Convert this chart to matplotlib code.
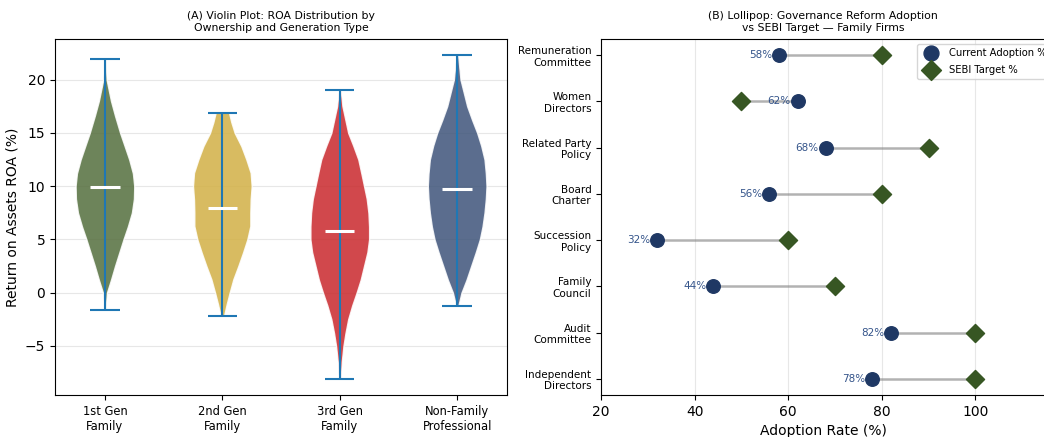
import matplotlib
matplotlib.use("Agg")
import matplotlib.pyplot as plt

# Panel A: ROA violin profiles (value, relative density) per ownership group
groups = ["1st Gen\nFamily", "2nd Gen\nFamily", "3rd Gen\nFamily", "Non-Family\nProfessional"]
body_colors = ["#546e3d", "#d2b045", "#c9282c", "#3e547a"]

gen1_coords = [-1.6, 0.0, 1.2, 2.5, 3.8, 5.0, 6.2, 7.5, 8.8, 10.0, 11.2, 12.5, 13.8, 15.0, 16.6, 18.0, 20.0, 21.9]
gen1_dens = [2, 6, 18, 30, 43, 55, 68, 80, 86, 87, 83, 72, 58, 45, 30, 18, 5, 2]
gen1_median = 9.9

gen2_coords = [-2.2, -1.1, 0.0, 1.25, 2.5, 3.75, 5.0, 6.25, 7.5, 8.75, 10.0, 11.25, 12.5, 13.75, 15.0, 16.0, 16.9]
gen2_dens = [5, 13, 22, 33, 48, 62, 75, 84, 84, 85, 88, 85, 72, 57, 37, 27, 20]
gen2_median = 7.9

gen3_coords = [-8.1, -6.5, -5.0, -3.8, -2.5, -1.2, 0.0, 1.2, 2.5, 3.8, 5.0, 6.2, 7.5, 8.8, 10.0, 11.2, 12.5, 13.8, 15.0, 17.5, 19.0]
gen3_dens = [3, 6, 11, 17, 25, 37, 50, 62, 72, 82, 87, 87, 85, 80, 72, 64, 55, 40, 25, 8, 3]
gen3_median = 5.8

nonfam_coords = [-1.3, 0.0, 1.2, 2.5, 3.8, 5.0, 6.2, 7.5, 8.8, 10.0, 11.2, 12.5, 13.8, 15.0, 16.2, 17.5, 20.0, 22.3]
nonfam_dens = [3, 13, 28, 42, 56, 68, 76, 82, 86, 88, 86, 82, 72, 60, 45, 30, 10, 3]
nonfam_median = 9.7

# Panel B: governance reforms (bottom to top)
reforms = ["Independent\nDirectors", "Audit\nCommittee", "Family\nCouncil", "Succession\nPolicy",
           "Board\nCharter", "Related Party\nPolicy", "Women\nDirectors", "Remuneration\nCommittee"]
current = [78, 82, 44, 32, 56, 68, 62, 58]
target = [100, 100, 70, 60, 80, 90, 50, 80]

profiles = [
    (gen1_coords, gen1_dens, gen1_median),
    (gen2_coords, gen2_dens, gen2_median),
    (gen3_coords, gen3_dens, gen3_median),
    (nonfam_coords, nonfam_dens, nonfam_median),
]
vpstats = []
for coords, dens, med in profiles:
    vpstats.append({
        "coords": coords,
        "vals": dens,
        "mean": med,
        "median": med,
        "min": coords[0],
        "max": coords[-1],
    })

fig = plt.figure(figsize=(10.44, 4.37), dpi=100)
ax1 = fig.add_axes([0.0527, 0.0961, 0.433, 0.8147])
ax2 = fig.add_axes([0.5757, 0.0961, 0.4258, 0.8147])

positions = [1, 2, 3, 4]
parts = ax1.violin(vpstats, positions=positions, widths=0.5, showmedians=True)
for body, col in zip(parts["bodies"], body_colors):
    body.set_facecolor(col)
    body.set_edgecolor("white")
    body.set_alpha(0.85)
for key in ["cbars", "cmins", "cmaxes"]:
    parts[key].set_color("#1f77b4")
    parts[key].set_linewidth(1.5)
parts["cmedians"].set_color("white")
parts["cmedians"].set_linewidth(2.2)

ax1.set_xticks(positions)
ax1.set_xticklabels(groups, fontsize=8.3)
ax1.tick_params(axis="y", labelsize=10)
ax1.set_ylabel("Return on Assets ROA (%)", fontsize=10)
ax1.set_title("(A) Violin Plot: ROA Distribution by\nOwnership and Generation Type", fontsize=7.8)
ax1.grid(True, axis="y", alpha=0.3)
ax1.set_axisbelow(True)

# Panel B: lollipop connectors and markers
ypos = list(range(len(reforms)))
for y, c, t in zip(ypos, current, target):
    ax2.plot([c, t], [y, y], color="gray", linewidth=1.8, alpha=0.6, zorder=1)
ax2.scatter(current, ypos, s=95, color="#1f3864", label="Current Adoption %", zorder=3)
ax2.scatter(target, ypos, s=85, marker="D", color="#375623", label="SEBI Target %", zorder=3)
for y, c in zip(ypos, current):
    ax2.text(c - 1.5, y, f"{c}%", ha="right", va="center", fontsize=7.5, color="#34548a")

ax2.set_yticks(ypos)
ax2.set_yticklabels(reforms, fontsize=7.5)
ax2.set_xlim(20, 115)
ax2.tick_params(axis="x", labelsize=10)
ax2.set_xlabel("Adoption Rate (%)", fontsize=10)
ax2.set_title("(B) Lollipop: Governance Reform Adoption\nvs SEBI Target \u2014 Family Firms", fontsize=7.8)
ax2.grid(True, axis="x", alpha=0.3)
ax2.set_axisbelow(True)
ax2.legend(loc="upper left", bbox_to_anchor=(0.71, 0.986), borderaxespad=0,
           fontsize=7.2, markerscale=1.1, labelspacing=0.7)

fig.savefig("out.png", dpi=100)
